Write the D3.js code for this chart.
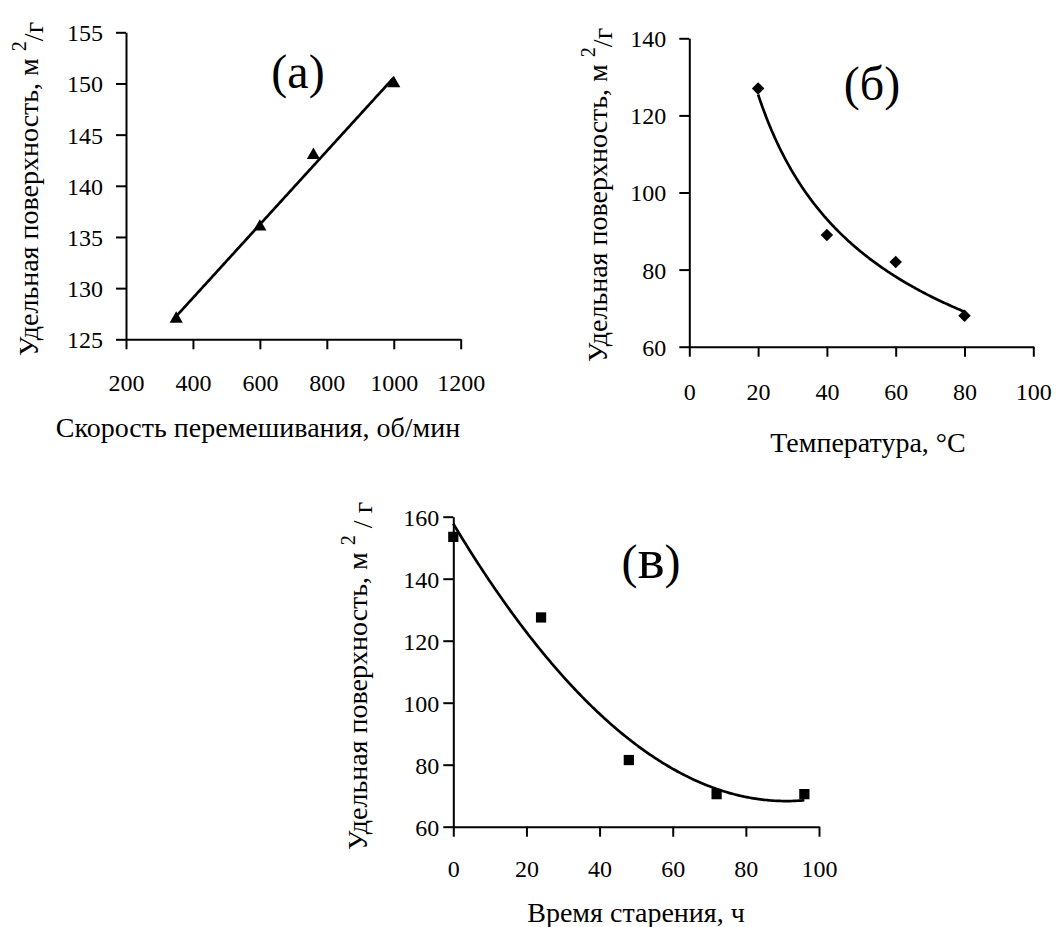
<!DOCTYPE html>
<html>
<head>
<meta charset="utf-8">
<script src="https://cdn.jsdelivr.net/npm/d3@7"></script>
<style>
  html, body { margin: 0; padding: 0; background: #fff; }
  svg { display: block; }
</style>
</head>
<body>
<svg id="chart" width="1056" height="927"></svg>
<script>
// ---------- DATA ----------
// (а) Specific surface vs stirring speed
const speedRpm      = [350, 600, 760, 1000];
const surfaceSpeed  = [127, 136, 143, 150];
const speedTicksX   = [200, 400, 600, 800, 1000, 1200];
const speedTicksY   = [125, 130, 135, 140, 145, 150, 155];

// (б) Specific surface vs temperature
const temperatureC  = [20, 40, 60, 80];
const surfaceTemp   = [127, 89, 82, 68];
const tempTicksX    = [0, 20, 40, 60, 80, 100];
const tempTicksY    = [60, 80, 100, 120, 140];

// (в) Specific surface vs ageing time
const ageingHours   = [0, 24, 48, 72, 96];
const surfaceAge    = [153.5, 127.5, 81.5, 70.5, 70.5];
const ageTicksX     = [0, 20, 40, 60, 80, 100];
const ageTicksY     = [60, 80, 100, 120, 140, 160];

const SERIF = "'Liberation Serif', 'Times New Roman', Times, 'DejaVu Serif', serif";

// ---------- trendline fits (least squares from the data) ----------
function linFit(xs, ys) {
  const n = xs.length, mx = d3.mean(xs), my = d3.mean(ys);
  let sxy = 0, sxx = 0;
  for (let i = 0; i < n; i++) { sxy += (xs[i]-mx)*(ys[i]-my); sxx += (xs[i]-mx)**2; }
  const b = sxy / sxx, a = my - b*mx;
  return x => a + b*x;
}
function powFit(xs, ys) {
  const f = linFit(xs.map(Math.log), ys.map(Math.log));
  return x => Math.exp(f(Math.log(x)));
}
function quadFit(xs, ys) {
  const S = k => d3.sum(xs, x => x**k);
  const T = k => d3.sum(xs.map((x,i)=> x**k * ys[i]));
  const A = [[S(0),S(1),S(2)],[S(1),S(2),S(3)],[S(2),S(3),S(4)]];
  const B = [T(0),T(1),T(2)];
  for (let i = 0; i < 3; i++) {
    for (let j = i+1; j < 3; j++) {
      const f = A[j][i]/A[i][i];
      for (let k = i; k < 3; k++) A[j][k] -= f*A[i][k];
      B[j] -= f*B[i];
    }
  }
  const c = [0,0,0];
  for (let i = 2; i >= 0; i--) {
    let s = B[i];
    for (let k = i+1; k < 3; k++) s -= A[i][k]*c[k];
    c[i] = s / A[i][i];
  }
  return x => c[0] + c[1]*x + c[2]*x*x;
}

const svg = d3.select("#chart");
const FONT_TICK = 24, FONT_TITLE = 28, FONT_PANEL = 48;

function panel(cfg) {
  const x = d3.scaleLinear().domain(cfg.xDomain).range(cfg.xRange);
  const y = d3.scaleLinear().domain(cfg.yDomain).range(cfg.yRange);
  const g = svg.append("g").attr("font-family", SERIF);

  const ax = g.append("g").attr("transform", `translate(0,${cfg.yRange[0]})`)
    .call(d3.axisBottom(x).tickValues(cfg.xTicks).tickSize(10).tickSizeOuter(0).tickPadding(0).tickFormat(d3.format("d")));
  const ay = g.append("g").attr("transform", `translate(${cfg.xRange[0]},0)`)
    .call(d3.axisLeft(y).tickValues(cfg.yTicks).tickSize(10).tickSizeOuter(0).tickPadding(0).tickFormat(d3.format("d")));
  [ax, ay].forEach(a => {
    a.attr("font-family", SERIF).attr("font-size", FONT_TICK);
    a.select(".domain").attr("stroke", "#000").attr("stroke-width", 2);
    a.selectAll(".tick line").attr("stroke", "#000").attr("stroke-width", 2);
    a.selectAll(".tick text").attr("font-family", SERIF).attr("font-size", FONT_TICK).attr("fill", "#000");
  });
  ax.selectAll(".tick text").attr("dy", null).attr("y", cfg.xLabelOffset);
  ay.selectAll(".tick text").attr("x", -cfg.yLabelOffset).attr("dy", "0.35em");

  const xs = d3.range(0, 201).map(i => cfg.fitFrom + (cfg.fitTo - cfg.fitFrom) * i / 200);
  g.append("path")
    .attr("d", d3.line().x(d => x(d)).y(d => y(cfg.fit(d)))(xs))
    .attr("fill", "none").attr("stroke", "#000").attr("stroke-width", 2.7);

  g.selectAll(".pt").data(cfg.xs.map((v,i)=>[v, cfg.ys[i]])).join("path")
    .attr("transform", d => `translate(${x(d[0])},${y(d[1])})${cfg.markerRotate ? " rotate(45)" : ""}`)
    .attr("d", d3.symbol().type(cfg.marker).size(cfg.markerSize))
    .attr("fill", "#000");

  g.append("text").attr("x", cfg.xTitlePos[0]).attr("y", cfg.xTitlePos[1])
    .attr("text-anchor", "middle").attr("font-size", FONT_TITLE).attr("font-family", SERIF).text(cfg.xTitle);
  const yt = g.append("text")
    .attr("transform", `translate(${cfg.yTitlePos[0]},${cfg.yTitlePos[1]}) rotate(-90)`)
    .attr("text-anchor", "middle").attr("font-size", FONT_TITLE).attr("font-family", SERIF);
  yt.append("tspan").text("Удельная поверхность, м ");
  yt.append("tspan").attr("dy", "-0.6em").attr("font-size", FONT_TITLE * 0.72).text("2");
  yt.append("tspan").attr("dy", "0.6em").text(cfg.yTitleTail);

  const lbl = g.append("text").attr("x", cfg.labelPos[0]).attr("y", cfg.labelPos[1])
    .attr("text-anchor", "middle").attr("font-size", FONT_PANEL).attr("font-family", SERIF);
  lbl.append("tspan").text("(");
  lbl.append("tspan").attr("font-size", FONT_PANEL * (cfg.labelScale || 1)).text(cfg.label);
  lbl.append("tspan").text(")");
}

panel({
  xDomain: [200, 1200], xRange: [126, 460.7],
  yDomain: [125, 155], yRange: [339.3, 32.3],
  xTicks: speedTicksX, yTicks: speedTicksY,
  xs: speedRpm, ys: surfaceSpeed,
  fit: linFit(speedRpm, surfaceSpeed), fitFrom: 350, fitTo: 1000,
  marker: d3.symbolTriangle, markerSize: 75,
  xLabelOffset: 52, yLabelOffset: 23,
  xTitle: "Скорость перемешивания, об/мин", xTitlePos: [258, 437],
  yTitlePos: [38, 189], yTitleTail: "/г",
  label: "а", labelPos: [298, 88]
});

panel({
  xDomain: [0, 100], xRange: [689.3, 1033.3],
  yDomain: [60, 140], yRange: [346.7, 38.3],
  xTicks: tempTicksX, yTicks: tempTicksY,
  xs: temperatureC, ys: surfaceTemp,
  fit: powFit(temperatureC, surfaceTemp), fitFrom: 20, fitTo: 80,
  marker: d3.symbolSquare, markerSize: 78, markerRotate: true,
  xLabelOffset: 53, yLabelOffset: 23,
  xTitle: "Температура, °С", xTitlePos: [868, 452],
  yTitlePos: [607, 195], yTitleTail: "/г",
  label: "б", labelPos: [872, 100]
});

panel({
  xDomain: [0, 100], xRange: [453.3, 819],
  yDomain: [60, 160], yRange: [826.7, 516.7],
  xTicks: ageTicksX, yTicks: ageTicksY,
  xs: ageingHours, ys: surfaceAge,
  fit: quadFit(ageingHours, surfaceAge), fitFrom: 0, fitTo: 96,
  marker: d3.symbolSquare, markerSize: 105,
  xLabelOffset: 50, yLabelOffset: 14,
  xTitle: "Время старения, ч", xTitlePos: [636, 922],
  yTitlePos: [367, 676], yTitleTail: " / г",
  label: "в", labelScale: 1.2, labelPos: [651, 578]
});
</script>
</body>
</html>
